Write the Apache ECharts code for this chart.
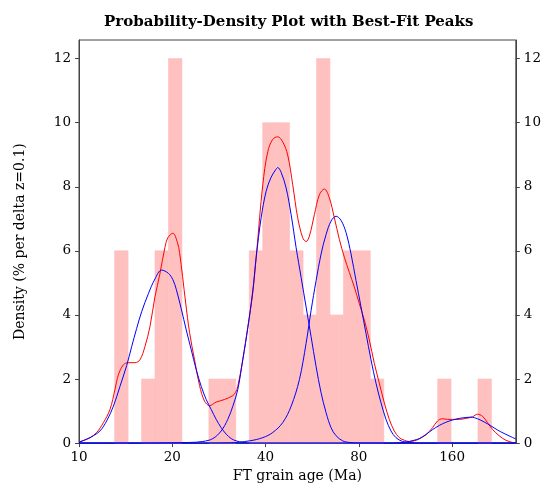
<!DOCTYPE html>
<html><head><meta charset="utf-8">
<script src="https://cdn.jsdelivr.net/npm/echarts@6/dist/echarts.min.js"></script>
<style>html,body{margin:0;padding:0;background:#fff}#c{width:544px;height:488px}</style>
</head><body><div id="c"></div>
<script>
// ---- data (ages in Ma, density in % per delta z=0.1) ----
const xTicks = [10, 20, 40, 80, 160];
const yTicks = [0, 2, 4, 6, 8, 10, 12];
const xMinAge = 10, xMaxAge = 256.9, yMax = 12.58;

const binEdges = [13.03, 14.40, 15.92, 17.59, 19.44, 21.49, 23.75, 26.25, 29.01, 32.06,
  35.43, 39.16, 43.28, 47.83, 52.86, 58.42, 64.56, 71.35, 78.86, 87.15,
  96.31, 106.4, 117.6, 130.0, 143.7, 158.8, 175.5, 193.9, 214.3];
const binHeights = [6, 0, 2, 6, 12, 0, 0, 2, 2, 0, 6, 10, 10, 6, 4, 12, 4, 6, 6, 2, 0, 0, 0, 0, 2, 0, 0, 2];

const pdpCurve = [[10, 0.02], [10.07, 0.04], [10.85, 0.17], [11.40, 0.33], [11.99, 0.64], [12.59, 1.05],
  [13.06, 1.67], [13.40, 2.13], [13.90, 2.44], [14.43, 2.51], [15.15, 2.51], [15.73, 2.60],
  [16.32, 3.01], [16.94, 3.63], [17.58, 4.56], [18.24, 5.28], [18.93, 6.10], [19.36, 6.41],
  [20.09, 6.55], [20.80, 6.25], [21.11, 5.95], [21.59, 5.20], [22.08, 4.40], [22.74, 3.45],
  [23.60, 2.60], [24.49, 1.80], [25.42, 1.31], [26.38, 1.17], [27.72, 1.28], [29.48, 1.36],
  [31.36, 1.48], [31.99, 1.58], [32.54, 1.77], [33.77, 2.60], [35.05, 3.60], [36.38, 4.70],
  [37.47, 6.00], [39.18, 8.06], [40.66, 9.09], [42.19, 9.48], [43.79, 9.56], [45.45, 9.40],
  [47.16, 8.99], [48.95, 8.06], [50.80, 7.03], [52.72, 6.41], [54.06, 6.29], [55.40, 6.46],
  [57.50, 7.13], [59.67, 7.75], [61.93, 7.93], [64.27, 7.65], [66.70, 7.03], [69.22, 6.36],
  [71.84, 5.80], [74.55, 5.33], [77.37, 4.87], [80.30, 4.35], [83.33, 3.84], [86.48, 3.22],
  [89.76, 2.49], [93.15, 1.87], [96.67, 1.26], [100.32, 0.74], [104.12, 0.38], [108.05, 0.17],
  [112.14, 0.09], [116.38, 0.05], [120.78, 0.07], [125.34, 0.13], [131.73, 0.26], [138.34, 0.48],
  [143.57, 0.69], [149.00, 0.76], [154.63, 0.74], [160.48, 0.74], [168.66, 0.74], [177.26, 0.77],
  [186.16, 0.82], [193.20, 0.90], [200.51, 0.84], [208.08, 0.64], [215.95, 0.43], [226.96, 0.23],
  [238.53, 0.09], [250.50, 0.02], [256.9, 0.0]];

const peak1 = [[10, 0.02], [10.07, 0.04], [10.59, 0.12], [11.13, 0.23], [11.69, 0.38], [12.28, 0.69],
  [12.91, 1.15], [13.56, 1.77], [14.25, 2.42], [14.79, 3.01], [15.35, 3.58], [15.93, 4.10],
  [16.74, 4.66], [17.58, 5.12], [18.47, 5.40], [19.42, 5.30], [20.09, 5.10], [20.60, 4.80],
  [21.38, 4.19], [22.19, 3.53], [23.03, 2.91], [23.90, 2.29], [24.80, 1.77], [25.74, 1.36],
  [26.71, 1.05], [27.72, 0.74], [28.77, 0.48], [29.86, 0.28], [30.99, 0.14], [32.16, 0.07],
  [33.77, 0.02], [36.38, 0.0], [60, 0.0], [120, 0.0], [256.9, 0.0]];

const peak2 = [[10, 0.0], [16, 0.0], [22.74, 0.02], [25.10, 0.05], [27.03, 0.14], [28.77, 0.38],
  [30.21, 0.74], [31.36, 1.15], [32.54, 1.67], [33.77, 2.60], [35.05, 3.60], [36.38, 4.75],
  [37.30, 5.79], [38.71, 7.03], [40.18, 7.86], [41.70, 8.30], [43.27, 8.55], [43.79, 8.60],
  [44.91, 8.45], [46.61, 7.96], [48.37, 7.13], [50.20, 6.10], [52.10, 5.17], [54.06, 4.25],
  [56.11, 3.32], [58.23, 2.39], [60.43, 1.57], [62.72, 0.95], [65.09, 0.48], [67.55, 0.23],
  [70.94, 0.07], [74.55, 0.02], [80, 0.0], [160, 0.0], [256.9, 0.0]];

const peak3 = [[10, 0.0], [20, 0.0], [30.60, 0.01], [35.50, 0.07], [39.18, 0.17], [42.19, 0.33],
  [45.45, 0.64], [48.37, 1.15], [51.44, 1.98], [54.06, 3.11], [56.11, 4.14], [58.23, 5.07],
  [60.43, 5.90], [62.72, 6.51], [65.09, 6.93], [67.55, 7.08], [70.10, 6.95], [72.75, 6.57],
  [75.50, 5.90], [78.36, 5.07], [81.32, 4.25], [84.39, 3.42], [87.58, 2.60], [90.89, 1.87],
  [94.33, 1.26], [97.90, 0.74], [101.60, 0.38], [105.44, 0.17], [110.73, 0.05], [116.38, 0.02],
  [125.34, 0.0], [180, 0.0], [256.9, 0.0]];

const peak4 = [[10, 0.0], [40, 0.0], [90, 0.0], [100.32, 0.0], [108.05, 0.01], [116.38, 0.05],
  [120.78, 0.09], [125.34, 0.14], [131.73, 0.27], [138.34, 0.42], [145.40, 0.55], [152.81, 0.65],
  [160.48, 0.72], [168.66, 0.77], [177.26, 0.80], [183.96, 0.81], [193.20, 0.76], [203.05, 0.66],
  [213.40, 0.54], [224.11, 0.41], [235.54, 0.30], [247.55, 0.20], [256.9, 0.13]];

// ---- chart ----
const toU = a => Math.log2(a / xMinAge);
const curve = arr => arr.map(p => [toU(p[0]), p[1]]);
const bars = binHeights.map((h, i) => [toU(binEdges[i]), toU(binEdges[i + 1]), h]).filter(d => d[2] > 0);

const serif = 'DejaVu Serif';
const axisCol = '#444';
const lbl = { fontFamily: serif, fontSize: 13.5, color: '#000' };

const chart = echarts.init(document.getElementById('c'), null, { renderer: 'canvas' });
const yAxisBase = {
  type: 'value', min: 0, max: yMax, interval: 2,
  axisLine: { show: true, lineStyle: { color: axisCol, width: 1 } },
  axisTick: { show: true, inside: false, length: 4, lineStyle: { color: axisCol } },
  splitLine: { show: false },
  axisLabel: Object.assign({ margin: 8, showMaxLabel: false,
    formatter: v => (yTicks.indexOf(v) >= 0 ? String(v) : '') }, lbl)
};
const blueLine = (data, name) => ({
  type: 'line', name, data: curve(data), showSymbol: false, smooth: 0.35,
  lineStyle: { color: '#0000ff', width: 1 }, z: 4, silent: true
});

chart.setOption({
  animation: false,
  backgroundColor: '#fff',
  title: {
    text: 'Probability-Density Plot with Best-Fit Peaks',
    left: 99, top: 10,
    textStyle: { fontFamily: 'DejaVu Serif', fontWeight: 'bold', fontSize: 15, color: '#000' }
  },
  grid: { left: 79, right: 27, top: 40, bottom: 41, show: true, borderColor: axisCol, borderWidth: 1, backgroundColor: 'transparent' },
  xAxis: {
    type: 'value', min: 0, max: toU(xMaxAge), interval: 1,
    name: 'FT grain age (Ma)', nameLocation: 'middle', nameGap: 23,
    nameTextStyle: { fontFamily: serif, fontSize: 14, color: '#000' },
    axisLine: { show: true, onZero: false, lineStyle: { color: axisCol, width: 1 } },
    axisTick: { show: true, inside: false, length: 4, lineStyle: { color: axisCol } },
    splitLine: { show: false },
    axisLabel: Object.assign({ margin: 7, showMaxLabel: false,
      formatter: v => { const i = Math.round(v); return Math.abs(v - i) < 1e-6 && xTicks[i] !== undefined ? String(xTicks[i]) : ''; } }, lbl)
  },
  yAxis: [
    Object.assign({}, yAxisBase, {
      position: 'left', name: 'Density (% per delta z=0.1)', nameLocation: 'middle', nameGap: 52,
      nameTextStyle: { fontFamily: serif, fontSize: 14, color: '#000' }
    }),
    Object.assign({}, yAxisBase, { position: 'right' })
  ],
  series: [
    {
      type: 'custom', name: 'histogram', data: bars, z: 2, silent: true,
      encode: { x: [0, 1], y: 2 },
      renderItem: (params, api) => {
        const p0 = api.coord([api.value(0), 0]);
        const p1 = api.coord([api.value(1), api.value(2)]);
        return { type: 'rect', shape: { x: p0[0], y: p1[1], width: p1[0] - p0[0], height: p0[1] - p1[1] },
          style: { fill: '#ffc0c0', stroke: '#ffc0c0', lineWidth: 0.6 } };
      }
    },
    {
      type: 'line', name: 'PDP', data: curve(pdpCurve), showSymbol: false, smooth: 0.35,
      lineStyle: { color: '#ff0000', width: 1 }, z: 3, silent: true
    },
    blueLine(peak1, 'peak1'), blueLine(peak2, 'peak2'), blueLine(peak3, 'peak3'), blueLine(peak4, 'peak4')
  ]
});
</script>
</body></html>
